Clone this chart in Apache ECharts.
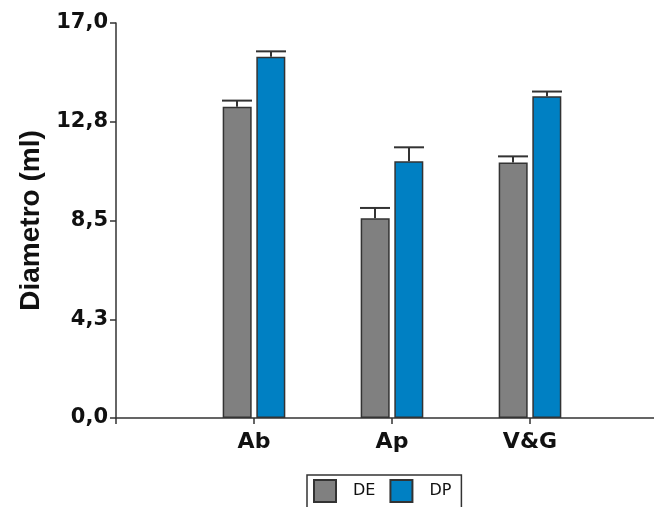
<!DOCTYPE html>
<html>
<head>
<meta charset="utf-8">
<script src="https://cdn.jsdelivr.net/npm/echarts@6/dist/echarts.min.js"></script>
<style>
  html, body { margin: 0; padding: 0; background: #fff; }
  #chart { width: 654px; height: 507px; }
</style>
</head>
<body>
<div id="chart"></div>
<script>
// categories (first and last are empty slots so the groups sit where the original has them)
var categories = ['', 'Ab', 'Ap', 'V&G', ''];
var seriesNames = ['DE', 'DP'];
var deMean = [null, 13.4, 8.6, 11.0, null];
var dpMean = [null, 15.55, 11.05, 13.85, null];
var deErr = [null, 0.26, 0.44, 0.26, null];
var dpErr = [null, 0.23, 0.6, 0.2, null];
var yTickLabels = ['0,0', '4,3', '8,5', '12,8', '17,0'];

var chart = echarts.init(document.getElementById('chart'));

function errData(mean, err) {
  var out = [];
  for (var i = 0; i < mean.length; i++) {
    if (mean[i] != null) out.push([i, mean[i], err[i]]);
  }
  return out;
}

// error bar with a cap as wide as the bar
function errRender(offset) {
  return function (params, api) {
    var c = api.coord([api.value(0), api.value(1)]);
    var hi = api.coord([api.value(0), api.value(1) + api.value(2)]);
    var x = c[0] + offset;
    var half = 15;
    var st = { stroke: '#333', lineWidth: 2 };
    return {
      type: 'group',
      children: [
        { type: 'line', shape: { x1: x, y1: c[1], x2: x, y2: hi[1] }, style: st },
        { type: 'line', shape: { x1: x - half, y1: hi[1], x2: x + half, y2: hi[1] }, style: st }
      ]
    };
  };
}

var axisColor = '#333';

chart.setOption({
  animation: false,
  textStyle: { fontFamily: 'DejaVu Sans' },
  grid: { left: 116, top: 23, right: -14, bottom: 89, outerBoundsMode: 'none', containLabel: false },
  legend: {
    data: seriesNames,
    left: 307,
    top: 475,
    orient: 'horizontal',
    icon: 'rect',
    itemWidth: 22,
    itemHeight: 22,
    itemGap: 14,
    padding: [4, 10, 8, 6],
    borderColor: '#333',
    borderWidth: 1.5,
    textStyle: { fontSize: 16, color: '#111', padding: [0, 0, 0, 12] }
  },
  xAxis: {
    type: 'category',
    data: categories,
    boundaryGap: false,
    axisLine: { lineStyle: { color: axisColor, width: 1.5 } },
    axisTick: { length: 6, lineStyle: { color: axisColor, width: 1.5 } },
    axisLabel: { fontSize: 22, fontWeight: 'bold', color: '#111', margin: 13 },
    splitLine: { show: false }
  },
  yAxis: {
    type: 'value',
    min: 0,
    max: 17,
    interval: 4.25,
    name: 'Diametro (ml)',
    nameLocation: 'middle',
    nameGap: 70,
    nameTextStyle: { fontSize: 28, fontWeight: 'bold', color: '#111', fontFamily: 'Liberation Sans' },
    axisLine: { show: true, lineStyle: { color: axisColor, width: 1.5 } },
    axisTick: { show: true, length: 6, lineStyle: { color: axisColor, width: 1.5 } },
    axisLabel: {
      fontSize: 21, fontWeight: 'bold', color: '#111', margin: 8, padding: [5, 0, 0, 0],
      formatter: function (v) { return yTickLabels[Math.round(v / 4.25)]; }
    },
    splitLine: { show: false }
  },
  series: [
    {
      name: 'DE', type: 'bar', data: deMean, barWidth: 29, barGap: '16%',
      itemStyle: { color: '#808080', borderColor: '#333', borderWidth: 1.5 }
    },
    {
      name: 'DP', type: 'bar', data: dpMean, barWidth: 29, barGap: '16%',
      itemStyle: { color: '#0080c3', borderColor: '#333', borderWidth: 1.5 }
    },
    {
      type: 'custom', data: errData(deMean, deErr), renderItem: errRender(-17),
      encode: { x: 0, y: 1 }, z: 3
    },
    {
      type: 'custom', data: errData(dpMean, dpErr), renderItem: errRender(17),
      encode: { x: 0, y: 1 }, z: 3
    }
  ]
});
</script>
</body>
</html>
